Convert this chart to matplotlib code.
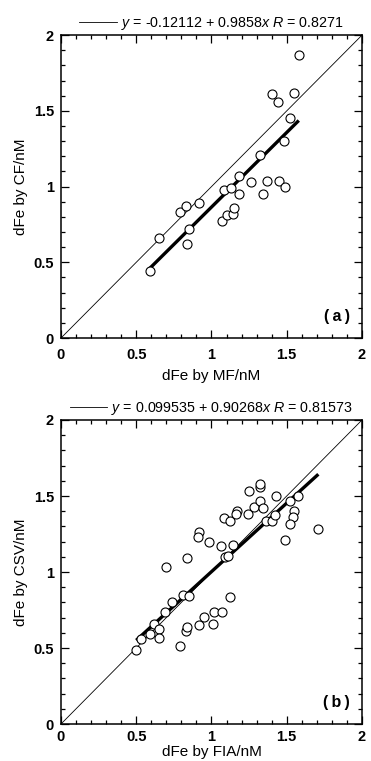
import numpy as np
import matplotlib
matplotlib.use("Agg")
import matplotlib.pyplot as plt
from matplotlib.lines import Line2D
from matplotlib.ticker import MultipleLocator

plt.rcParams.update({
    "font.family": ["Liberation Sans", "DejaVu Sans"],
    "mathtext.fontset": "custom",
    "mathtext.it": "Liberation Sans:italic",
    "mathtext.rm": "Liberation Sans",
})

# ---- panel (a): MF vs CF ----
mf_x = [0.59, 0.65, 0.79, 0.83, 0.92, 0.85, 0.84, 1.07, 1.10, 1.14,
        1.15, 1.08, 1.13, 1.18, 1.18, 1.26, 1.37, 1.45, 1.49, 1.34,
        1.32, 1.48, 1.52, 1.40, 1.44, 1.55, 1.58]
cf_y = [0.44, 0.66, 0.83, 0.87, 0.89, 0.72, 0.62, 0.77, 0.81, 0.82,
        0.86, 0.98, 0.99, 0.95, 1.07, 1.03, 1.04, 1.04, 0.995, 0.95,
        1.21, 1.30, 1.45, 1.61, 1.56, 1.62, 1.87]
fit_a = (-0.12112, 0.9858, 0.8271)

# ---- panel (b): FIA vs CSV ----
fia_x = [0.70, 0.84, 0.92, 0.91, 0.985, 1.06, 1.08, 1.125, 1.17, 1.16,
         1.24, 1.25, 1.28, 1.32, 1.34, 1.32, 1.32, 1.14, 1.09, 1.11,
         1.36, 1.40, 1.42, 1.43, 1.52, 1.575, 1.55, 1.54, 1.52, 1.49,
         1.71, 0.50, 0.53, 0.59, 0.62, 0.65, 0.65, 0.69, 0.74, 0.81,
         0.85, 0.79, 0.83, 0.84, 0.92, 0.95, 1.01, 1.02, 1.07, 1.125]
csv_y = [1.035, 1.095, 1.265, 1.23, 1.195, 1.17, 1.355, 1.335, 1.40, 1.38,
         1.38, 1.53, 1.43, 1.47, 1.42, 1.56, 1.58, 1.18, 1.10, 1.105,
         1.335, 1.335, 1.375, 1.50, 1.465, 1.50, 1.40, 1.36, 1.315, 1.21,
         1.285, 0.487, 0.557, 0.59, 0.656, 0.625, 0.568, 0.74, 0.80, 0.85,
         0.84, 0.51, 0.615, 0.635, 0.65, 0.705, 0.66, 0.737, 0.737, 0.837]
fit_b = (0.099535, 0.90268, 0.81573)

panels = [
    (mf_x, cf_y, fit_a, "-0.12112", "0.9858", "0.8271",
     "dFe by MF/nM", "dFe by CF/nM", "a"),
    (fia_x, csv_y, fit_b, "0.099535", "0.90268", "0.81573",
     "dFe by FIA/nM", "dFe by CSV/nM", "b"),
]

fig = plt.figure(figsize=(3.71, 7.61), dpi=100)
positions = [[0.1644, 0.5558, 0.8113, 0.398], [0.1644, 0.0486, 0.8113, 0.3995]]
tick_pads = [7, 4]
label_pads = [5, 1]

for i, (pos, (xs, ys, fit, a_s, b_s, r_s, xl, yl, tag)) in enumerate(zip(positions, panels)):
    ax = fig.add_axes(pos)
    ax.plot([0, 2], [0, 2], color="black", lw=0.6)
    xs = np.array(xs)
    ys = np.array(ys)
    a, b, r = fit
    xf = np.array([xs.min(), xs.max()])
    ax.plot(xf, a + b * xf, color="black", lw=2.4, solid_capstyle="butt")
    ax.plot(xs, ys, "o", mfc="white", mec="black", ms=6.5, mew=0.8)

    ax.set_xlim(0, 2)
    ax.set_ylim(0, 2)
    ax.xaxis.set_major_locator(MultipleLocator(0.5))
    ax.yaxis.set_major_locator(MultipleLocator(0.5))
    ax.xaxis.set_minor_locator(MultipleLocator(0.1))
    ax.yaxis.set_minor_locator(MultipleLocator(0.1))
    ax.xaxis.set_major_formatter(plt.FuncFormatter(lambda v, p: f"{v:g}"))
    ax.yaxis.set_major_formatter(plt.FuncFormatter(lambda v, p: f"{v:g}"))
    ax.tick_params(which="both", direction="in", top=True, right=True,
                   labelsize=10.5, width=0.9)
    ax.tick_params(which="major", length=6)
    ax.tick_params(axis="x", which="major", pad=tick_pads[i])
    ax.tick_params(axis="y", which="major", pad=5)
    ax.tick_params(which="minor", length=3)
    for lab in ax.get_xticklabels() + ax.get_yticklabels():
        lab.set_fontweight("bold")
    for sp in ax.spines.values():
        sp.set_linewidth(1.1)

    ax.set_xlabel(xl, fontsize=11, labelpad=label_pads[i])
    ax.set_ylabel(yl, fontsize=11, labelpad=4)
    ax.text(0.96, 0.045, "(\u2009" + tag + "\u2009)", transform=ax.transAxes,
            ha="right", va="bottom", fontsize=11.5, fontweight="bold")

    handle = Line2D([], [], color="black", lw=0.6)
    label = rf"$y$ = {a_s} + {b_s}$x$ $R$ = {r_s}"
    ax.legend([handle], [label], loc="lower center", bbox_to_anchor=(0.5, 1.0),
              frameon=False, fontsize=10.3, handlelength=2.6, handletextpad=0.3,
              borderaxespad=0.1, borderpad=0.1)

fig.savefig("out.png", dpi=100)
